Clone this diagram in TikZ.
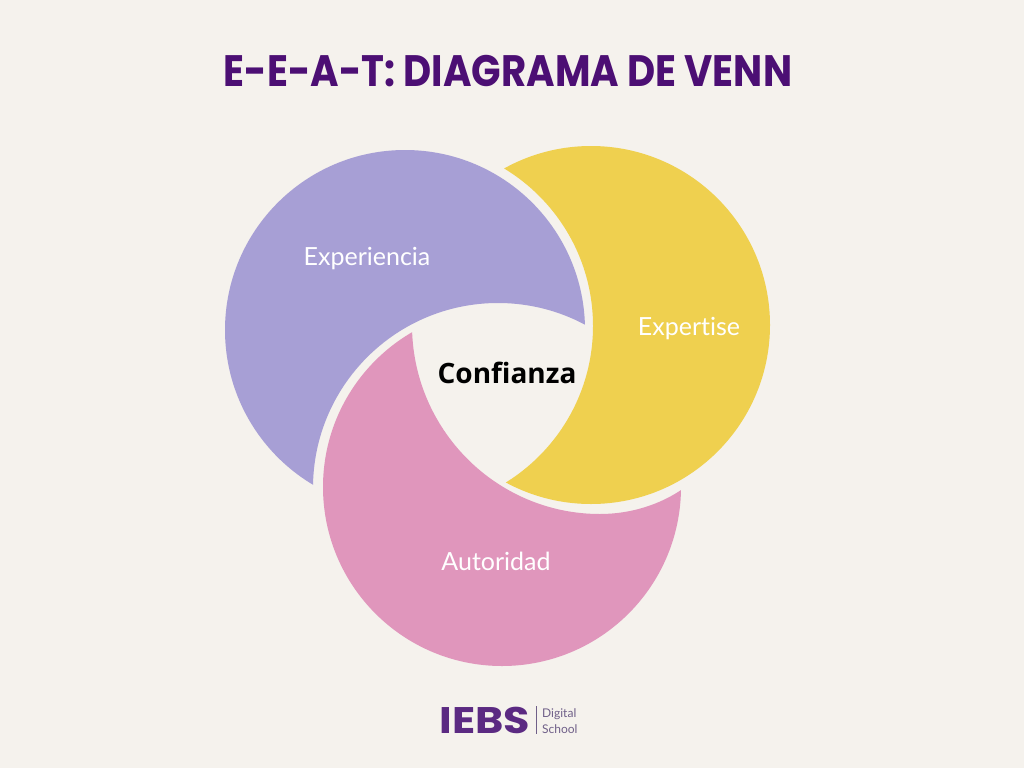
\documentclass[tikz,border=0pt]{standalone}
\usepackage{fontspec}
\setmainfont[Ligatures=NoCommon]{Lato}
\newfontfamily\titlefont{Poppins}
\newfontfamily\centerfont{Open Sans}
\definecolor{paper}{HTML}{F5F2ED}
\definecolor{lilac}{HTML}{A79FD5}
\definecolor{maize}{HTML}{EFD04F}
\definecolor{rose}{HTML}{E096BC}
\definecolor{grape}{HTML}{4C0F74}
\definecolor{logogrape}{HTML}{5B2A82}
\definecolor{greygrape}{HTML}{6F5F88}
\tikzset{
  petallabel/.style={text=white,font=\fontsize{25}{28}\selectfont},
  logotext/.style={text=greygrape,font=\fontsize{12}{13}\selectfont,anchor=base west,inner sep=0pt},
}
\begin{document}
\begin{tikzpicture}[x=1pt,y=-1pt]
      \useasboundingbox[fill=paper] (0,0) rectangle (1024,768);
      \node[text=grape,font=\titlefont\bfseries\fontsize{44}{48}\selectfont,xscale=0.88] (title) at (508,71) {E-E-A-T: DIAGRAMA DE VENN};
      % the three petals, each one cut by a larger shape
      \begin{scope}[even odd rule]
        \clip (0,0) rectangle (1024,768) (498,488) circle (185);
        \fill[lilac] (405,330) circle (180);
      \end{scope}
      \begin{scope}[even odd rule]
        \clip (0,0) rectangle (1024,768) (409,326) circle (184);
        \fill[maize] (591,325) circle (179);
      \end{scope}
      \begin{scope}[even odd rule]
        \clip (0,0) rectangle (1024,768)
          (412,300) -- (412,325) .. controls (412,429) and (496,514) .. (600,514)
          .. controls (630,514) and (660,505) .. (684,488)
          -- (720,460) -- (720,250) -- cycle;
        \fill[rose] (502,487) circle (179);
      \end{scope}
      \node[petallabel] (experiencia) at (367,259) {Experiencia};
      \node[petallabel] (expertise) at (689,329) {Expertise};
      \node[petallabel] (autoridad) at (496,561) {Autoridad};
      \node[font=\centerfont\bfseries\fontsize{28}{31}\selectfont] (confianza) at (507,373) {Confianza};
      % logo
      \node[text=logogrape,font=\titlefont\bfseries\fontsize{37}{40}\selectfont,xscale=1.16,inner sep=0pt] (iebs) at (485,720) {IEBS};
      \coordinate (bartop) at (536,706);
      \coordinate (barbottom) at (536,734);
      \draw[greygrape,line width=0.6pt] (bartop) -- (barbottom);
      \node[logotext] (digital) at (542,717) {Digital};
      \node[logotext] (school) at (542,733) {School};
\end{tikzpicture}
\end{document}
